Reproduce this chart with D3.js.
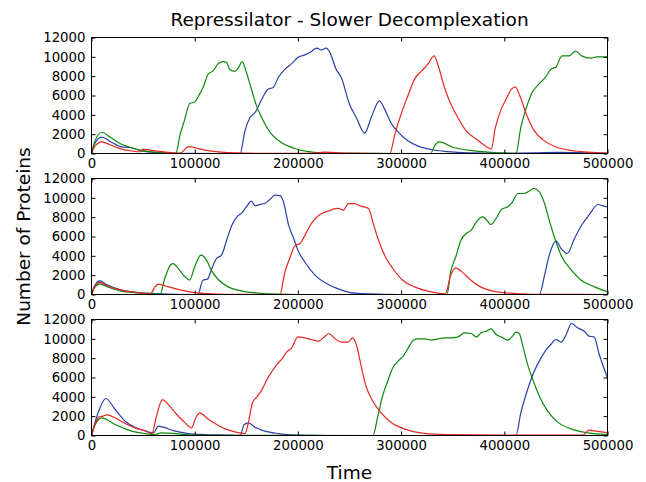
<!DOCTYPE html>
<html>
<head>
<meta charset="utf-8">
<script src="https://cdn.jsdelivr.net/npm/d3@7"></script>
<style>
  html, body { margin: 0; padding: 0; background: #fff; }
  svg { display: block; }
  text { font-family: "DejaVu Sans", sans-serif; fill: #000; }
</style>
</head>
<body>
<div id="chart"></div>
<script>
// Protein counts over time for the three repressors, three stochastic runs.
// Each series is a list of [time, count] pairs.
const xTicks = [0, 100000, 200000, 300000, 400000, 500000];
const yTicks = [0, 2000, 4000, 6000, 8000, 10000, 12000];
const seriesNames = ["blue", "green", "red"];

// Run 1
const run1Blue = [[0,0],[3000,1000],[10000,1700],[18000,1250],[29000,690],[37000,620],[48600,275],[61600,100],[80000,20],[144000,0],[148700,2350],[153500,3700],[158500,4240],[165000,5620],[171000,6650],[176000,6830],[181000,7860],[187500,8720],[194000,9300],[200000,9930],[206600,10200],[213000,10550],[218000,10900],[222700,10700],[227500,10900],[231000,10450],[237000,8720],[242000,7860],[250000,5100],[256600,3720],[264700,2100],[271000,3720],[279000,5450],[284000,4590],[290000,3200],[297000,2240],[306600,1310],[316000,790],[329000,410],[345000,200],[364500,70],[400000,20],[430000,60],[450000,120],[470000,100],[490000,40],[500000,20]];
const run1Green = [[0,0],[3000,1200],[10000,2200],[18000,1700],[29000,950],[37000,650],[45500,380],[61600,150],[75000,40],[81600,0],[86000,2000],[90000,3400],[95400,5200],[99600,5300],[104000,6000],[108000,6800],[113000,8200],[117800,8550],[122800,9300],[127700,9500],[131000,9400],[134000,8700],[138900,8500],[142500,8900],[146000,9500],[150000,8400],[155000,6650],[160000,4900],[165000,3700],[174400,2000],[184000,1140],[197000,520],[210000,200],[225000,70],[250000,10],[328500,0],[333000,900],[337000,1200],[351000,620],[371000,275],[390000,100],[410000,10],[411300,0],[416000,2700],[421000,4600],[427000,6300],[433700,7200],[440000,7900],[445000,8700],[450000,8950],[456000,10100],[463000,10100],[469000,10600],[475000,10100],[484000,9860],[490000,10000],[500000,10000]];
const run1Red = [[0,0],[3000,700],[10000,1200],[18000,900],[29000,450],[40000,250],[47000,180],[49500,420],[54000,400],[61600,275],[72000,150],[85000,50],[87000,80],[93800,720],[100000,600],[110000,345],[126000,140],[140000,60],[160000,20],[200000,10],[215000,40],[225000,150],[236000,100],[250000,30],[289000,0],[294000,2000],[300000,4070],[306600,5970],[313000,7690],[320000,8550],[326000,9240],[332000,10100],[336000,9070],[342000,6830],[349000,4930],[355000,3720],[363000,2340],[373000,1480],[384000,620],[387500,450],[391000,2520],[397000,4590],[401000,5450],[407000,6650],[410700,6900],[415000,5970],[422000,3900],[428000,2520],[438000,1380],[449000,720],[465000,310],[481000,140],[500000,35]];

// Run 2
const run2Blue = [[0,0],[3000,900],[8000,1400],[15000,1000],[29000,450],[45500,200],[61600,100],[80000,20],[103000,0],[108000,1480],[112500,1590],[116000,2520],[121000,3720],[126000,4070],[131000,5620],[136000,7170],[141000,8030],[146000,8480],[150000,9070],[155000,9660],[158500,9170],[163000,9310],[168000,9410],[173000,9860],[178000,10280],[183000,10200],[186000,9590],[191000,7170],[196000,5790],[200000,4590],[207000,3310],[216600,2000],[229500,1030],[242500,450],[250600,200],[270000,60],[297000,0],[434000,0],[439000,2000],[443600,4070],[450000,5550],[455000,4760],[461000,4240],[468000,5790],[476000,7340],[482000,8200],[490800,9310],[495600,9170],[500000,9070]];
const run2Green = [[0,0],[3000,700],[8000,1100],[15000,800],[29000,345],[45500,170],[61600,60],[66400,0],[71000,1650],[76000,2970],[79000,3200],[84000,2700],[90500,1830],[95000,1480],[100000,2860],[106000,4070],[111500,3550],[116000,2520],[122800,1550],[132500,790],[146000,345],[161500,140],[180000,30],[200000,0],[344500,0],[348000,2340],[353000,3900],[358000,5620],[363000,6310],[368000,6650],[373000,7520],[379000,8030],[383000,7690],[387000,7240],[392000,7860],[397500,8830],[403500,9070],[408000,9590],[413000,10450],[419000,10450],[424000,10690],[428500,10970],[434000,10620],[439000,9410],[444000,7520],[449000,5790],[455000,4070],[465000,2520],[474500,1480],[487500,790],[500000,275]];
const run2Red = [[0,0],[3000,800],[8000,1250],[15000,900],[29000,450],[45500,200],[57000,60],[61600,790],[64800,1070],[74500,790],[87000,450],[100000,200],[117000,70],[140000,10],[182500,0],[187500,2340],[192000,3720],[197000,5030],[202000,5280],[208500,6480],[213000,7340],[219800,8140],[224600,8450],[229500,8620],[234000,8830],[239000,8900],[244000,8720],[249000,9400],[255000,9410],[261000,9140],[268500,8900],[272600,7520],[277500,5790],[284000,4070],[292000,2690],[301600,1480],[313000,790],[329000,275],[343000,70],[348000,2000],[353000,2760],[359000,2340],[367600,1480],[377000,790],[393000,275],[415000,70],[440000,10],[500000,0]];

// Run 3
const run3Blue = [[0,0],[3000,1200],[8000,2800],[13900,3830],[22900,2690],[32600,1480],[42000,860],[52000,480],[60000,275],[64800,970],[69700,860],[81000,450],[94000,200],[110000,100],[130000,50],[144000,20],[148000,1140],[152000,1310],[158500,860],[168000,450],[181000,200],[200000,50],[230000,0],[411300,0],[416000,2340],[422600,4760],[429000,6650],[435600,8030],[442000,9070],[445000,9410],[450000,9930],[455000,9660],[460000,10450],[465000,11590],[471000,11140],[477500,10790],[482000,10280],[487000,10200],[492000,8380],[500000,5970]];
const run3Green = [[0,0],[3000,1000],[10000,1830],[22900,1140],[32600,690],[42000,380],[52000,200],[61000,100],[63000,150],[68000,275],[81000,200],[94000,70],[120000,10],[272600,0],[277500,2000],[282000,4070],[287000,5620],[292000,7000],[297000,7690],[302000,8200],[307000,9070],[312000,9860],[316700,10000],[323000,10000],[329500,9860],[336000,10000],[342000,10100],[349000,10100],[355000,10200],[361600,10620],[368000,10550],[373000,10200],[377600,10620],[382500,10790],[387300,11030],[392000,10450],[397000,10200],[403500,9860],[408000,10280],[411300,10690],[414500,10550],[418000,9240],[422600,7340],[427600,5790],[434000,4070],[442000,2520],[451700,1380],[464600,690],[481000,275],[500000,100]];
const run3Red = [[0,0],[3000,1000],[7000,1900],[11000,2000],[15000,2140],[22900,1830],[32600,1240],[42000,790],[52000,480],[58400,200],[63000,2000],[68700,3720],[74500,3200],[82600,2170],[90700,1310],[97000,790],[101000,1830],[105000,2340],[111500,1830],[119600,1240],[129500,690],[139000,380],[148700,200],[152000,1310],[156000,3380],[160000,3970],[165000,4690],[170000,5790],[174400,6550],[179500,7340],[184000,7860],[189000,8620],[194000,9070],[200000,10200],[206600,10100],[213000,9930],[219800,9760],[224600,10100],[230000,10550],[236000,10000],[242500,9660],[248500,9660],[253000,10100],[256600,9410],[261300,7170],[266000,5100],[272600,3550],[280600,2340],[290000,1380],[303000,690],[319000,275],[345000,100],[400000,50],[476000,40],[482000,550],[490000,420],[500000,300]];

const runs = [
  [run1Blue, run1Green, run1Red],
  [run2Blue, run2Green, run2Red],
  [run3Blue, run3Green, run3Red]
];

const colors = { blue: "#2a3ea8", green: "#0b8a0b", red: "#e4291f" };

const width = 646, height = 482;
const left = 91.5, right = 607.5;
const panelTops = [37.5, 178.5, 319.5];
const panelHeight = 116;
const tickLen = 4;

const svg = d3.select("#chart").append("svg")
  .attr("width", width).attr("height", height);

const x = d3.scaleLinear().domain([0, 500000]).range([left, right]);

runs.forEach((series, i) => {
  const top = panelTops[i];
  const y = d3.scaleLinear().domain([0, 12000]).range([top + panelHeight, top]);
  const g = svg.append("g");

  const clipId = "clip" + i;
  svg.append("clipPath").attr("id", clipId)
    .append("rect").attr("x", left).attr("y", top - 2)
    .attr("width", right - left).attr("height", panelHeight + 2);

  const line = d3.line()
    .x(d => x(d[0]))
    .y(d => y(d[1]))
    .curve(d3.curveMonotoneX);

  const lines = g.append("g").attr("clip-path", `url(#${clipId})`);
  series.forEach((data, k) => {
    lines.append("path")
      .datum(data)
      .attr("d", line)
      .attr("fill", "none")
      .attr("stroke", colors[seriesNames[k]])
      .attr("stroke-width", 1.2)
      .attr("stroke-linejoin", "round");
  });

  // inward ticks on all four sides, labels on bottom and left
  const bottomAxis = d3.axisBottom(x).tickValues(xTicks)
    .tickSize(-tickLen).tickSizeOuter(0).tickPadding(5)
    .tickFormat(d3.format("d"));
  const topAxis = d3.axisTop(x).tickValues(xTicks)
    .tickSize(-tickLen).tickSizeOuter(0).tickFormat("");
  const leftAxis = d3.axisLeft(y).tickValues(yTicks)
    .tickSize(-tickLen).tickSizeOuter(0).tickPadding(6)
    .tickFormat(d3.format("d"));
  const rightAxis = d3.axisRight(y).tickValues(yTicks)
    .tickSize(-tickLen).tickSizeOuter(0).tickFormat("");

  const axes = [
    g.append("g").attr("transform", `translate(0,${top + panelHeight})`).call(bottomAxis),
    g.append("g").attr("transform", `translate(0,${top})`).call(topAxis),
    g.append("g").attr("transform", `translate(${left},0)`).call(leftAxis),
    g.append("g").attr("transform", `translate(${right},0)`).call(rightAxis)
  ];
  axes.forEach(a => {
    a.select(".domain").remove();
    a.selectAll(".tick line").attr("stroke", "#000").attr("stroke-width", 1);
    a.selectAll(".tick text")
      .style("font-family", "'DejaVu Sans', sans-serif")
      .style("font-size", "13.3px")
      .attr("fill", "#000");
  });

  g.append("rect")
    .attr("x", left).attr("y", top)
    .attr("width", right - left).attr("height", panelHeight)
    .attr("fill", "none").attr("stroke", "#000").attr("stroke-width", 1);
});

svg.append("text")
  .attr("x", (left + right) / 2).attr("y", 26)
  .attr("text-anchor", "middle")
  .style("font-size", "18.5px")
  .text("Repressilator - Slower Decomplexation");

svg.append("text")
  .attr("x", (left + right) / 2).attr("y", 479)
  .attr("text-anchor", "middle")
  .style("font-size", "18.5px")
  .text("Time");

svg.append("text")
  .attr("transform", `translate(29.5,${(panelTops[0] + panelTops[2] + panelHeight) / 2}) rotate(-90)`)
  .attr("text-anchor", "middle")
  .style("font-size", "18.5px")
  .text("Number of Proteins");
</script>
</body>
</html>
